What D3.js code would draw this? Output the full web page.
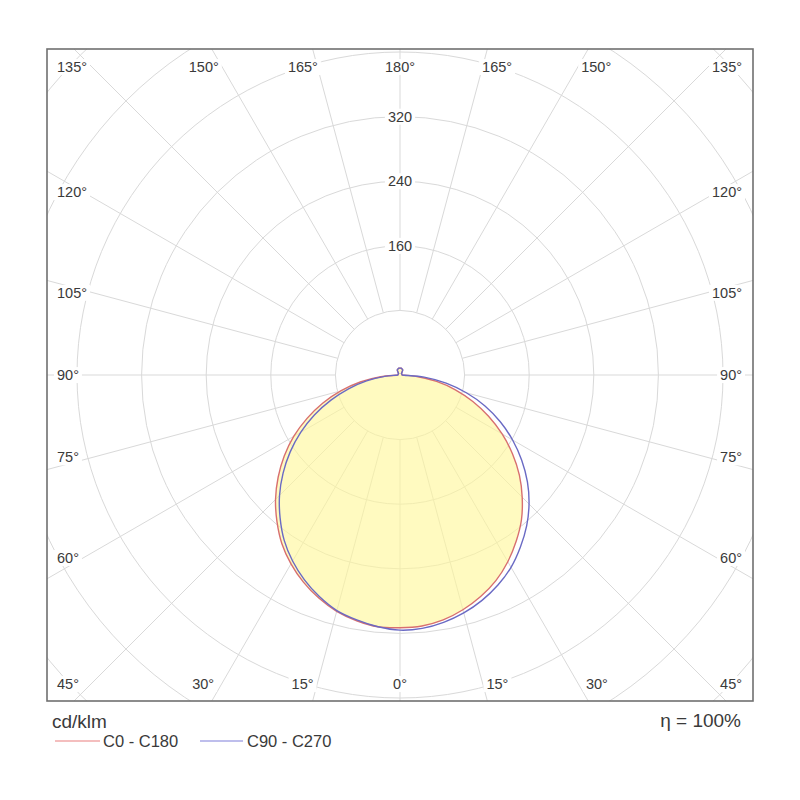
<!DOCTYPE html>
<html>
<head>
<meta charset="utf-8">
<script src="https://cdn.jsdelivr.net/npm/d3@7"></script>
<style>
  body { margin: 0; background: #fff; }
  text { font-family: "Liberation Sans", Arial, sans-serif; fill: #3a3a3a; }
</style>
</head>
<body>
<div id="chart"></div>
<script>
// gamma angles (deg) of the measured intensities
const gamma = [0, 5, 10, 15, 20, 25, 30, 35, 40, 45, 50, 55, 60, 65, 70, 75, 80, 85, 90,
  95, 100, 105, 110, 115, 120, 125, 130, 135, 140, 145, 150, 155, 160, 165, 170, 175, 180];

// luminous intensity, cd/klm, per C half-plane
const c0 = [313, 312, 308, 301, 292, 281, 267, 251, 234, 214, 193, 170, 146, 121, 96, 71, 46, 21, 3,
  2.5, 2.5, 2.5, 2.5, 2.5, 2.5, 2.5, 2.5, 2.5, 3, 4.5, 6.5, 7.5, 8, 8, 8.5, 8.5, 8.5];
const c180 = [314, 313, 309, 303, 294, 283, 270, 255, 237, 218, 197, 175, 152, 127, 102, 76, 50, 24, 3,
  2.5, 2.5, 2.5, 2.5, 2.5, 2.5, 2.5, 2.5, 2.5, 3, 4.5, 6.5, 7.5, 8, 8, 8.5, 8.5, 8.5];
const c90 = [316, 315, 311, 305, 297, 287, 275, 260, 244, 226, 206, 184, 161, 137, 112, 85, 58, 30, 3,
  2.5, 2.5, 2.5, 2.5, 2.5, 2.5, 2.5, 2.5, 2.5, 3, 4.5, 6.5, 7.5, 8, 8, 8.5, 8.5, 8.5];
const c270 = [314, 313, 308, 302, 292, 280, 266, 250, 231, 211, 189, 166, 142, 117, 91, 66, 42, 19, 3,
  2.5, 2.5, 2.5, 2.5, 2.5, 2.5, 2.5, 2.5, 2.5, 3, 4.5, 6.5, 7.5, 8, 8, 8.5, 8.5, 8.5];

const ringValues = [80, 160, 240, 320, 400, 480, 560, 640];
const ringLabels = [160, 240, 320];
const spokeAngles = [0, 15, 30, 45, 60, 75, 90, 105, 120, 135, 150, 165, 180];
const seriesNames = ['C0 - C180', 'C90 - C270'];
const seriesColors = ['#d86f6f', '#6a6ac4'];
const legendColors = ['#f0a8a8', '#a9a9e6'];

const width = 800;
const height = 800;
const frame = {left: 47, top: 49, right: 753, bottom: 701};
const cx = 400;
const cy = 375;
const rad = (d) => d * Math.PI / 180;

const r = d3.scaleLinear().domain([0, 80]).range([0, 64.6]);

const svg = d3.select('#chart')
    .append('svg')
    .attr('width', width)
    .attr('height', height);

svg.append('defs').append('clipPath')
    .attr('id', 'clip')
    .append('rect')
    .attr('x', frame.left)
    .attr('y', frame.top)
    .attr('width', frame.right - frame.left)
    .attr('height', frame.bottom - frame.top);

const plot = svg.append('g').attr('clip-path', 'url(#clip)');
const g = plot.append('g').attr('transform', 'translate(' + cx + ',' + cy + ')');

// rings
g.selectAll('.ring')
    .data(ringValues)
    .enter().append('circle')
    .attr('r', (d) => r(d))
    .attr('fill', 'none')
    .attr('stroke', '#d9d9d9')
    .attr('stroke-width', 1);

// spokes every 15 deg, both sides, starting at the first ring
const spokes = [];
spokeAngles.forEach((a) => {
  spokes.push(a);
  if (a > 0 && a < 180) spokes.push(-a);
});
g.selectAll('.spoke')
    .data(spokes)
    .enter().append('line')
    .attr('x1', (d) => r(80) * Math.sin(rad(d)))
    .attr('y1', (d) => r(80) * Math.cos(rad(d)))
    .attr('x2', (d) => r(720) * Math.sin(rad(d)))
    .attr('y2', (d) => r(720) * Math.cos(rad(d)))
    .attr('stroke', '#d9d9d9')
    .attr('stroke-width', 1);

// closed outline of one C plane pair: right half 0->180, left half back to 0
const outline = (right, left) => {
  const pts = gamma.map((a, i) => ({a: Math.PI - rad(a), v: right[i]}));
  for (let i = gamma.length - 2; i > 0; i--) {
    pts.push({a: Math.PI + rad(gamma[i]), v: left[i]});
  }
  return pts;
};

const line = d3.lineRadial()
    .angle((d) => d.a)
    .radius((d) => r(d.v))
    .curve(d3.curveCatmullRomClosed.alpha(0.5));

const planes = [outline(c0, c180), outline(c90, c270)];

g.append('path')
    .attr('d', line(planes[0]))
    .attr('fill', '#fff79a')
    .attr('fill-opacity', 0.62)
    .attr('stroke', 'none');

g.selectAll('.plane')
    .data(planes)
    .enter().append('path')
    .attr('d', (d) => line(d))
    .attr('fill', 'none')
    .attr('stroke', (d, i) => seriesColors[i])
    .attr('stroke-width', 1.4);

// label with white box behind it
const boxedLabel = (parent, x, y, txt, anchor) => {
  const lg = parent.append('g');
  const t = lg.append('text')
      .attr('x', x)
      .attr('y', y)
      .attr('dy', '0.35em')
      .attr('text-anchor', anchor)
      .style('font-size', '14.5px')
      .text(txt);
  const b = t.node().getBBox();
  lg.insert('rect', 'text')
      .attr('x', b.x - 3)
      .attr('y', b.y)
      .attr('width', b.width + 6)
      .attr('height', b.height)
      .attr('fill', '#fff');
};

// ring value labels on the upward axis
ringLabels.forEach((v) => boxedLabel(svg, cx, cy - r(v), v, 'middle'));

// angle labels around the frame
const topY = frame.top + 18;
const bottomY = frame.bottom - 17;
const leftX = frame.left + 10;
const rightX = frame.right - 11;
spokeAngles.forEach((a) => {
  const sides = (a === 0 || a === 180) ? [1] : [-1, 1];
  sides.forEach((s) => {
    const txt = a + '°';
    if (a <= 30 || a >= 150) {
      const y = a < 90 ? bottomY : topY;
      const off = a < 90 ? a : 180 - a;
      const x = off === 0 ? cx : cx + s * Math.abs(y - cy) * Math.tan(rad(off + 2.5));
      boxedLabel(svg, x, y, txt, 'middle');
    } else if (a === 45 || a === 135) {
      const y = a < 90 ? bottomY : topY;
      boxedLabel(svg, s < 0 ? leftX : rightX, y, txt, s < 0 ? 'start' : 'end');
    } else {
      const e = a - 90;
      const y = e === 0 ? cy : cy - Math.sign(e) * 330 * Math.tan(rad(Math.abs(e) - 1));
      boxedLabel(svg, s < 0 ? leftX : rightX, y, txt, s < 0 ? 'start' : 'end');
    }
  });
});

// frame
svg.append('rect')
    .attr('x', frame.left)
    .attr('y', frame.top)
    .attr('width', frame.right - frame.left)
    .attr('height', frame.bottom - frame.top)
    .attr('fill', 'none')
    .attr('stroke', '#707070')
    .attr('stroke-width', 1.6);

// unit and efficiency
svg.append('text')
    .attr('x', 52)
    .attr('y', 728)
    .style('font-size', '19px')
    .text('cd/klm');
svg.append('text')
    .attr('x', 741)
    .attr('y', 727)
    .attr('text-anchor', 'end')
    .style('font-size', '19px')
    .text('η = 100%');

// legend
const legendX = [55, 200];
const legend = svg.selectAll('.legend')
    .data(seriesNames)
    .enter().append('g')
    .attr('transform', (d, i) => 'translate(' + legendX[i] + ',741)');
legend.append('line')
    .attr('x1', 0)
    .attr('x2', (d, i) => i === 0 ? 45 : 43)
    .attr('stroke', (d, i) => legendColors[i])
    .attr('stroke-width', 1.5);
legend.append('text')
    .attr('x', (d, i) => i === 0 ? 48 : 47)
    .attr('y', 6)
    .style('font-size', '16.5px')
    .text((d) => d);
</script>
</body>
</html>
